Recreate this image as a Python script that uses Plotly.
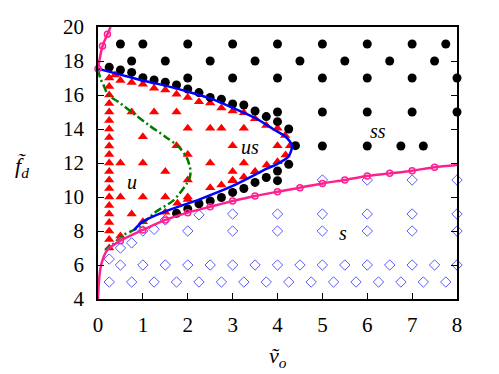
import plotly.graph_objects as go

# ---------------- data ----------------
# black filled circles (ss region)
ss_x = [0.5, 1, 2, 3, 4, 5, 6, 7, 7.75,
        0.75, 1.5, 2.5, 3.5, 4.5, 5.5, 6.5, 7.5,
        2, 3, 4, 5, 6, 7, 8,
        4, 5, 6, 7, 8,
        5, 6, 6.75, 7.25,
        0.25, 0.5, 0.75, 1.0, 1.25, 1.5, 1.75, 2.0, 2.25, 2.5, 2.75, 3.0, 3.25, 3.5, 3.75, 4.0, 4.25, 4.4,
        1.75, 2.0, 2.25, 2.5, 2.75, 3.0, 3.25, 3.5, 3.75, 4.0, 4.0, 4.25]
ss_y = [19, 19, 19, 19, 19, 19, 19, 19, 19,
        18, 18, 18, 18, 18, 18, 18, 18,
        17, 17, 17, 17, 17, 17, 17,
        15, 15, 15, 15, 15,
        13, 13, 13, 13,
        17.63, 17.47, 17.33, 17.02, 16.88, 16.75, 16.59, 16.35, 16.14, 15.86, 15.75, 15.47, 15.41, 15.06, 14.73, 14.43, 14.0, 13.02,
        9.04, 9.3, 9.6, 9.77, 9.97, 10.27, 10.5, 10.86, 11.15, 11.53, 10.96, 11.92]

# red triangles (u and us regions)
u_col_y = [7.0, 7.5, 8.0, 8.5, 9.0, 9.5, 10.0, 10.5, 11.0, 11.5, 12.0, 12.5, 13.0,
           13.5, 14.0, 14.5, 15.0, 15.5, 16.0, 16.5, 17.0]
u_x = [0.25] * len(u_col_y) + [
    0.38, 0.5, 0.75, 1.0, 1.25, 1.5, 1.75, 2.0, 2.25, 2.5, 2.75, 3.0, 3.25, 3.5, 3.75, 4.0, 4.17, 4.28, 4.18, 4.0, 3.76,
    0.75, 1.25, 1.75,
    2.0, 2.5, 2.75, 3.25,
    1.0,
    1.75, 3.0, 4.0,
    2.0,
    0.5, 1.0, 2.5, 3.25,
    1.5, 3.0, 3.5,
    2.0, 3.0,
    0.5, 1.0, 1.5, 2.0,
    0.75, 1.5,
    1.0, 0.5,
    1.77, 2.0, 2.5, 2.75, 3.0, 3.25, 3.5]
u_y = u_col_y + [
    17.18, 16.86, 16.73, 16.63, 16.39, 16.29, 16.04, 15.85, 15.6, 15.53, 15.24, 15.06, 14.95, 14.6, 14.2, 14.04, 13.62, 13.02, 12.47, 12.08, 11.88,
    15.0, 15.0, 15.0,
    14.04, 14.04, 14.04, 14.04,
    13.55,
    13.02, 13.02, 13.02,
    12.5,
    12.0, 12.0, 12.0, 12.0,
    11.5, 11.5, 11.5,
    11.0, 11.0,
    10.0, 10.0, 10.0, 10.0,
    9.0, 9.1,
    8.55, 7.7,
    9.63, 9.86, 10.55, 10.7, 10.96, 11.18, 11.49]

# blue open diamonds (s region)
s_x = ([0.25 + 0.5 * i for i in range(16)] + [0.5 + 0.5 * i for i in range(16)] +
       [0.25, 0.5, 0.75, 1.0, 1.25, 1.5, 2.0, 2.25, 3, 3, 4, 4, 5, 5, 5, 6, 6, 6, 7, 7, 7, 8, 8, 8])
s_y = ([5] * 16 + [6] * 16 +
       [6.35, 7.0, 7.3, 8.0, 8.1, 8.65, 8.0, 8.95, 8, 9, 8, 9, 8, 9, 11, 8, 9, 11, 8, 9, 11, 8, 9, 11])

# blue solid boundary curve
blue_x = [0.0, 0.5, 1.0, 1.5, 2.0, 2.5, 3.0, 3.5, 3.9, 4.2, 4.32, 4.25, 4.0, 3.75, 3.0, 2.25, 1.5, 1.0, 0.8]
blue_y = [17.55, 17.2, 16.85, 16.55, 16.2, 15.8, 15.25, 14.65, 14.0, 13.5, 13.0, 12.4, 11.95, 11.65, 10.65, 9.85, 9.15, 8.55, 8.05]

# magenta curve (lower branch) and its markers
mag_x = [0.0, 0.02, 0.07, 0.2, 0.5, 1.0, 1.5, 2.0, 2.5, 3.0, 3.5, 4.0, 4.5, 5.0, 5.5, 6.0, 6.5, 7.0, 7.5, 8.0]
mag_y = [4.0, 5.0, 6.0, 6.85, 7.43, 8.06, 8.65, 9.08, 9.43, 9.76, 10.06, 10.31, 10.55, 10.8, 11.0, 11.24, 11.39, 11.55, 11.75, 11.88]
magm_x = [0.5, 1.0, 1.5, 2.0, 2.5, 3.0, 3.5, 4.0, 4.5, 5.0, 5.5, 6.0, 6.5, 7.0, 7.5]
magm_y = [7.43, 8.06, 8.65, 9.08, 9.43, 9.76, 10.06, 10.31, 10.55, 10.8, 11.0, 11.24, 11.39, 11.55, 11.75]
# magenta curve (upper branch)
magu_x = [0.0, 0.1, 0.21, 0.28]
magu_y = [17.55, 18.88, 19.57, 20.0]
magum_x = [0.0, 0.1, 0.21]
magum_y = [17.55, 18.88, 19.57]

# green dash-dot curve
grn_x = [0.0, 0.05, 0.12, 0.23, 0.45, 0.75, 1.12, 1.5, 1.8, 1.98, 2.06, 2.05, 1.98, 1.68, 1.3, 0.86, 0.56, 0.27, 0.16]
grn_y = [17.5, 17.0, 16.6, 16.0, 15.6, 15.0, 14.25, 13.55, 12.95, 12.3, 11.6, 11.2, 10.8, 9.8, 9.15, 8.15, 7.75, 7.08, 6.92]

region_labels = ["u", "us", "ss", "s"]
region_x = [0.75, 3.38, 6.24, 5.46]
region_y = [10.9, 12.96, 13.9, 7.86]

x_ticks = [0, 1, 2, 3, 4, 5, 6, 7, 8]
y_ticks = [4, 6, 8, 10, 12, 14, 16, 18, 20]

# ---------------- figure ----------------
FONT = "Liberation Serif, Times New Roman, serif"
MAG = "#ff2090"
fig = go.Figure()

fig.add_trace(go.Scatter(x=s_x, y=s_y, mode="markers", cliponaxis=False,
                         marker=dict(symbol="diamond-open", size=8, color="#5a5aff", line=dict(width=1))))
fig.add_trace(go.Scatter(x=u_x, y=u_y, mode="markers", cliponaxis=False,
                         marker=dict(symbol="triangle-up", size=9, color="#ff0000", line=dict(width=0))))
fig.add_trace(go.Scatter(x=ss_x, y=ss_y, mode="markers", cliponaxis=False,
                         marker=dict(symbol="circle", size=9, color="#000000", line=dict(width=0))))
fig.add_trace(go.Scatter(x=grn_x, y=grn_y, mode="lines", line=dict(color="#007a00", width=2.5, dash="8px,3px,2px,3px", shape="spline", smoothing=0.8)))
fig.add_trace(go.Scatter(x=blue_x, y=blue_y, mode="lines", line=dict(color="#0000ff", width=2.5, shape="spline", smoothing=0.8)))
fig.add_trace(go.Scatter(x=mag_x, y=mag_y, mode="lines", line=dict(color=MAG, width=2.5, shape="spline", smoothing=0.8)))
fig.add_trace(go.Scatter(x=magm_x, y=magm_y, mode="markers",
                         marker=dict(symbol="circle-open", size=6, color=MAG, line=dict(width=1.5))))
fig.add_trace(go.Scatter(x=magu_x, y=magu_y, mode="lines", cliponaxis=False, line=dict(color=MAG, width=2.5, shape="spline", smoothing=0.8)))
fig.add_trace(go.Scatter(x=magum_x, y=magum_y, mode="markers", cliponaxis=False,
                         marker=dict(symbol="circle-open", size=6, color=MAG, line=dict(width=1.5))))

for t, xx, yy in zip(region_labels, region_x, region_y):
    fig.add_annotation(x=xx, y=yy, text="<i>%s</i>" % t, showarrow=False,
                       font=dict(family=FONT, size=20, color="black"))

fig.add_annotation(xref="paper", yref="paper", x=-0.212, y=0.485, xanchor="center", yanchor="middle",
                   text="<i>f\u0303</i><sub><i>d</i></sub>",
                   showarrow=False, font=dict(family=FONT, size=22, color="black"))
fig.add_annotation(xref="paper", yref="paper", x=0.5, y=-0.215, xanchor="center", yanchor="middle",
                   text="<i>v\u0303</i><sub><i>o</i></sub>",
                   showarrow=False, font=dict(family=FONT, size=22, color="black"))

axis_common = dict(showgrid=False, zeroline=False, showline=True, linecolor="black", linewidth=1.5,
                   ticks="inside", ticklen=6, tickwidth=1, tickcolor="black",
                   tickfont=dict(family=FONT, size=21, color="black"))
fig.update_xaxes(range=[0, 8], tickvals=x_ticks, mirror=True, ticklabelstandoff=6, **axis_common)
fig.update_yaxes(range=[4, 20], tickvals=y_ticks, mirror="ticks", ticklabelstandoff=8, **axis_common)

fig.update_layout(width=499, height=374, margin=dict(l=98, r=42, t=27, b=75),
                  paper_bgcolor="white", plot_bgcolor="white", showlegend=False)

fig.write_html("out.html")
